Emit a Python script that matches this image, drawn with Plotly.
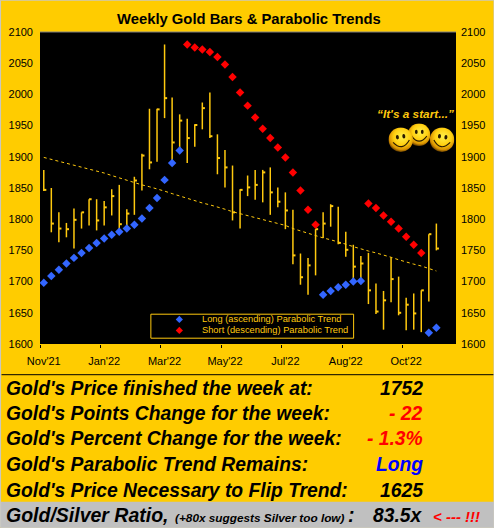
import base64
import plotly.graph_objects as go

W, H = 494, 528
L, R, T, B = 39.5, 456.0, 32.3, 344.3

x_labels = ["Nov'21", "Jan'22", "Mar'22", "May'22", "Jul'22", "Aug'22", "Oct'22"]
y_ticks = [1600, 1650, 1700, 1750, 1800, 1850, 1900, 1950, 2000, 2050, 2100]

high = [1879,1850,1811,1794,1817,1811,1832,1832,1829,1848,1855,1816,1868,1905,1977,1977,2080,1995,1968,1961,
        1952,1987,2003,1936,1911,1886,1848,1870,1879,1879,1883,1851,1843,1815,1745,1738,1784,1811,1824,1820,
        1780,1759,1741,1746,1697,1685,1739,1708,1674,1681,1686,1776,1793]
low = [1845,1779,1763,1771,1753,1785,1790,1782,1790,1806,1780,1787,1807,1846,1880,1892,1962,1895,1911,1890,
       1916,1944,1930,1872,1851,1798,1785,1837,1831,1827,1807,1819,1784,1728,1695,1679,1710,1770,1788,1760,
       1740,1701,1703,1664,1648,1623,1667,1646,1622,1623,1619,1668,1750]
close = [1847,1793,1785,1784,1799,1811,1832,1798,1819,1837,1792,1809,1862,1902,1891,1976,1994,1923,1958,1930,
         1951,1978,1933,1898,1883,1811,1847,1851,1855,1875,1843,1828,1814,1742,1707,1726,1784,1793,1821,1762,
         1751,1724,1729,1686,1652,1670,1704,1650,1663,1649,1686,1776,1753]

long_sar = [1698,1709,1719,1729,1738,1746,1754,1762,1769,1775,1780,1785,1791,1801,1818,1834,1863,1890,1910,
            None,None,None,None,None,None,None,None,None,None,None,None,None,None,None,None,None,None,
            1679,1685,1691,1695,1700,1701,None,None,None,None,None,None,None,None,1618,1626]
short_sar = [None,None,None,None,None,None,None,None,None,None,None,None,None,None,None,None,None,None,None,
             2080,2075,2072,2068,2060,2048,2028,2003,1982,1963,1945,1930,1915,1899,1875,1846,1815,1791,
             None,None,None,None,None,None,1825,1818,1806,1796,1785,1772,1759,1746,None,None]
trend = [1899,1896,1893,1889,1886,1883,1880,1877,1874,1870,1866,1862,1858,1855,1852,1849,1845,1841,1837,1833,
         1829,1826,1823,1820,1816,1812,1809,1806,1803,1800,1797,1794,1790,1785,1781,1778,1774,1770,1767,1764,
         1760,1756,1752,1749,1746,1743,1739,1735,1731,1728,1725,1721,1717]

stats = [("Gold's Price finished the week at:", "1752", "black"),
         ("Gold's Points Change for the week:", "- 22", "#FF0000"),
         ("Gold's Percent Change for the week:", "- 1.3%", "#FF0000"),
         ("Gold's Parabolic Trend Remains:", "Long", "#0000FF"),
         ("Gold's Price Necessary to Flip Trend:", "1625", "black")]
stat_y = [388.5, 413.5, 439, 465, 490.5]
legend_labels = ["Long (ascending) Parabolic Trend", "Short (descending) Parabolic Trend"]

GOLD = "#FFCC00"
BAR = "#FFC90E"
BLUE = "#3366FF"
RED = "#FF0000"
FONT = "Liberation Sans"
idx = list(range(len(close)))

def px(v): return (v - L) / (R - L)
def py(v): return (B - v) / (B - T)

def note(x, y, text, size, color="black", anchor="left", style="italic", weight="bold", font=FONT):
    return dict(xref="paper", yref="paper", x=px(x), y=py(y), text=text, showarrow=False, xanchor=anchor,
                yanchor="middle", borderpad=0, borderwidth=0,
                font=dict(family=font, size=size, color=color, style=style, weight=weight))

def smiley(rot):
    svg = f'''<svg xmlns="http://www.w3.org/2000/svg" viewBox="0 0 100 100" width="100" height="100">
<defs><radialGradient id="g" cx="0.55" cy="0.38" r="0.62"><stop offset="0" stop-color="#FFF04A"/>
<stop offset="0.55" stop-color="#FFCF10"/><stop offset="0.85" stop-color="#D89000"/><stop offset="1" stop-color="#6A4200"/></radialGradient></defs>
<circle cx="50" cy="50" r="49" fill="url(#g)"/>
<g transform="rotate({rot} 50 50)"><ellipse cx="38" cy="38" rx="6" ry="9" fill="#2A1A00"/><ellipse cx="64" cy="38" rx="6" ry="9" fill="#2A1A00"/>
<path d="M18 56 Q50 100 84 56" fill="none" stroke="#2A1A00" stroke-width="4.5"/></g></svg>'''
    return "data:image/svg+xml;base64," + base64.b64encode(svg.encode()).decode()

def face(cx, cy, r, rot):
    return dict(source=smiley(rot), xref="paper", yref="paper", x=px(cx - r), y=py(cy - r),
                sizex=2 * r / (R - L), sizey=2 * r / (B - T), xanchor="left", yanchor="top",
                sizing="stretch", layer="above")

def key(cx, cy, color):
    r = 3.6
    path = "M{} {} L{} {} L{} {} L{} {} Z".format(px(cx - r), py(cy), px(cx), py(cy - r), px(cx + r), py(cy), px(cx), py(cy + r))
    return dict(type="path", xref="paper", yref="paper", path=path, fillcolor=color, line_width=0)

fig = go.Figure()
fig.add_trace(go.Scatter(x=idx, y=trend, mode="lines", line=dict(color=BAR, width=1, dash="3px,3px"),
                         showlegend=False, hoverinfo="skip"))
fig.add_trace(go.Scatter(x=idx, y=close, mode="markers", marker=dict(size=1, opacity=0), showlegend=False,
                         error_y=dict(type="data", symmetric=False,
                                      array=[h - c for h, c in zip(high, close)],
                                      arrayminus=[c - l for c, l in zip(close, low)],
                                      color=BAR, thickness=1.5, width=0),
                         error_x=dict(type="data", symmetric=False, array=[0.34] * len(close),
                                      arrayminus=[0] * len(close), color=BAR, thickness=2, width=0)))
fig.add_trace(go.Scatter(x=idx, y=long_sar, mode="markers", name=legend_labels[0], showlegend=False,
                         marker=dict(symbol="diamond", size=6.5, color=BLUE)))
fig.add_trace(go.Scatter(x=idx, y=short_sar, mode="markers", name=legend_labels[1], showlegend=False,
                         marker=dict(symbol="diamond", size=6.5, color=RED)))
fig.add_trace(go.Scatter(x=[0], y=[1600], xaxis="x2", yaxis="y2", mode="markers", marker=dict(size=1, opacity=0),
                         showlegend=False, hoverinfo="skip"))

anns = [note(249, 19.5, "Weekly Gold Bars &amp; Parabolic Trends", 14.8, style="normal", anchor="center"),
        note(415.7, 114.7, "“It's a start...”", 11.8, color=BAR, anchor="center"),
        note(201.7, 319.7, legend_labels[0], 9.3, color=BAR, style="normal", weight="normal"),
        note(201.7, 330.7, legend_labels[1], 9.3, color=BAR, style="normal", weight="normal")]
for (label, value, color), y in zip(stats, stat_y):
    anns.append(note(5.5, y, label, 19.3))
    anns.append(note(423, y, value, 19.3, color=color, anchor="right"))
anns += [note(5.5, 515.5, "Gold/Silver Ratio,", 19.5),
         note(175, 518, "(+80x suggests Silver too low)", 11.8),
         note(348, 515.5, ":", 19.5),
         note(423, 515.5, "83.5x", 19.3, anchor="right"),
         note(432.5, 516.5, "&lt; --- !!!", 15, color=RED)]

shapes = [
    dict(type="rect", xref="paper", yref="paper", x0=px(0), x1=px(W), y0=py(502), y1=py(H),
         fillcolor="#C0C0C0", line_width=0, layer="below"),
    dict(type="line", xref="paper", yref="paper", x0=px(1), x1=px(W), y0=py(375), y1=py(375),
         line=dict(color="black", width=1)),
    dict(type="line", xref="paper", yref="paper", x0=0, x1=1, y0=1, y1=1, line=dict(color="#808080", width=1)),
    dict(type="rect", xref="paper", yref="paper", x0=px(0), x1=px(W), y0=py(0.5), y1=py(H),
         line=dict(color="#C8C8C8", width=1), layer="above"),
    dict(type="rect", xref="paper", yref="paper", x0=px(150.5), x1=px(353.5), y0=py(314.5), y1=py(338.5),
         line=dict(color=BAR, width=1)),
    key(179, 319.7, BLUE), key(179, 330.7, RED),
]

fig.update_layout(
    width=W, height=H, autosize=False,
    margin=dict(l=L, r=W - R, t=T, b=H - B, pad=0, autoexpand=False),
    paper_bgcolor=GOLD, plot_bgcolor="black",
    font=dict(family=FONT, size=11, color="black"),
    xaxis=dict(range=[-0.5, 54.6], tickmode="array", tickvals=[8 * k for k in range(len(x_labels))],
               ticktext=x_labels, ticks="", showgrid=False, zeroline=False, showline=False,
               tickfont=dict(size=11), ticklabelstandoff=9),
    xaxis2=dict(range=[-0.5, 54.6], overlaying="x", anchor="y2", side="bottom", tickmode="array",
                tickvals=[8 * k - 0.5 for k in range(len(x_labels))], showticklabels=False, ticks="outside",
                ticklen=3, tickwidth=1, tickcolor="black", showgrid=False, zeroline=False, showline=False),
    yaxis=dict(range=[1600, 2100], tickmode="array", tickvals=y_ticks, ticks="", showgrid=False, zeroline=False,
               showline=False, tickfont=dict(size=11), ticklabelstandoff=6),
    yaxis2=dict(range=[1600, 2100], overlaying="y", side="right", anchor="x2", tickmode="array", tickvals=y_ticks,
                ticks="", showgrid=False, zeroline=False, showline=False, tickfont=dict(size=11),
                ticklabelstandoff=4),
    annotations=anns, shapes=shapes,
    images=[face(419, 135, 11.5, 0), face(400.7, 140, 12.5, -8), face(442, 140, 12.5, 8)],
    showlegend=False, hovermode=False,
)

fig.write_html("out.html", config=dict(displayModeBar=False),
               post_script="document.body.style.margin='0';document.body.style.overflow='hidden';")
